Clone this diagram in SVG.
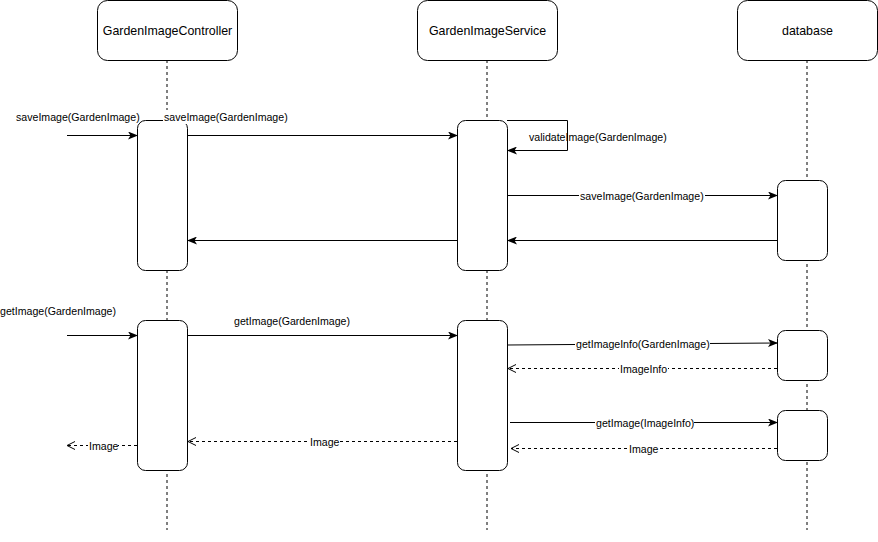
<svg xmlns="http://www.w3.org/2000/svg" width="878" height="542" viewBox="0 0 878 542">
<style>
.hdr{fill:#fff;stroke:#000;stroke-width:1}
.act{fill:#fff;stroke:#000;stroke-width:1}
.life{stroke:#000;stroke-width:1;stroke-dasharray:3,3;fill:none}
.msg{stroke:#000;stroke-width:1;fill:none}
.ret{stroke:#000;stroke-width:1;fill:none;stroke-dasharray:3,3}
text{font-family:"Liberation Sans",Arial,sans-serif;fill:#000}
.ht{font-size:12.4px;text-anchor:middle}
.lt{font-size:10.6px}
.bg{fill:#fff}
</style>
<defs>
<marker id="fa" markerWidth="10" markerHeight="8" refX="9" refY="4" orient="auto" markerUnits="userSpaceOnUse">
<path d="M0,0 L10,4 L0,8 L2.5,4 Z" fill="#000"/>
</marker>
<marker id="oa" markerWidth="10" markerHeight="10" refX="9" refY="4" orient="auto" markerUnits="userSpaceOnUse">
<path d="M1,0 L9,4 L1,8" fill="none" stroke="#000"/>
</marker>
</defs>
<g id="lifelines">
<line class="life" x1="167" y1="60" x2="167" y2="530"/>
<line class="life" x1="487" y1="60" x2="487" y2="530"/>
<line class="life" x1="807" y1="60" x2="807" y2="530"/>
</g>
<g id="controller">
<rect class="hdr" x="97.5" y="0.5" width="140" height="60" rx="10"/>
<text class="ht" x="167.5" y="35">GardenImageController</text>
</g>
<g id="service">
<rect class="hdr" x="417.5" y="0.5" width="140" height="60" rx="10"/>
<text class="ht" x="487.5" y="35">GardenImageService</text>
</g>
<g id="database">
<rect class="hdr" x="737.5" y="0.5" width="140" height="60" rx="10"/>
<text class="ht" x="807.5" y="35">database</text>
</g>
<g id="activations">
<rect class="act" x="137.5" y="120.5" width="50" height="150" rx="8"/>
<rect class="act" x="137.5" y="320.5" width="50" height="150" rx="8"/>
<rect class="act" x="457.5" y="120.5" width="50" height="150" rx="8"/>
<rect class="act" x="457.5" y="320.5" width="50" height="150" rx="8"/>
<rect class="act" x="777.5" y="180.5" width="50" height="80" rx="8"/>
<rect class="act" x="777.5" y="330.5" width="50" height="50" rx="8"/>
<rect class="act" x="777.5" y="410.5" width="50" height="50" rx="8"/>
</g>
<g id="connectors">
<line class="msg" x1="67" y1="135.5" x2="137" y2="135.5" marker-end="url(#fa)"/>
<rect class="bg" x="15" y="110" width="124" height="14"/>
<text class="lt" x="16" y="121">saveImage(GardenImage)</text>

<line class="msg" x1="187" y1="135.5" x2="457" y2="135.5" marker-end="url(#fa)"/>
<rect class="bg" x="163" y="110" width="126" height="14"/>
<text class="lt" x="164" y="121">saveImage(GardenImage)</text>

<path class="msg" d="M507,120.5 H567.5 V150.5 H508" marker-end="url(#fa)"/>
<text class="lt" x="529" y="141">validateImage(GardenImage)</text>

<line class="msg" x1="507" y1="195.5" x2="777" y2="195.5" marker-end="url(#fa)"/>
<rect class="bg" x="579" y="189" width="126" height="13"/>
<text class="lt" x="580" y="200">saveImage(GardenImage)</text>

<line class="msg" x1="777" y1="240.5" x2="508" y2="240.5" marker-end="url(#fa)"/>
<line class="msg" x1="457" y1="240.5" x2="188" y2="240.5" marker-end="url(#fa)"/>

<line class="msg" x1="67" y1="335.5" x2="137" y2="335.5" marker-end="url(#fa)"/>
<text class="lt" x="0" y="315">getImage(GardenImage)</text>

<line class="msg" x1="187" y1="335.5" x2="457" y2="335.5" marker-end="url(#fa)"/>
<text class="lt" x="234" y="325">getImage(GardenImage)</text>

<line class="msg" x1="507" y1="345" x2="777" y2="343" marker-end="url(#fa)"/>
<rect class="bg" x="575" y="337" width="135" height="13"/>
<text class="lt" x="576" y="348">getImageInfo(GardenImage)</text>

<line class="ret" x1="777" y1="368.5" x2="508" y2="368.5" marker-end="url(#oa)"/>
<rect class="bg" x="619" y="362" width="49" height="13"/>
<text class="lt" x="620" y="373">ImageInfo</text>

<line class="msg" x1="510" y1="422.5" x2="777" y2="422.5" marker-end="url(#fa)"/>
<rect class="bg" x="595" y="416" width="99" height="13"/>
<text class="lt" x="596" y="427">getImage(ImageInfo)</text>

<line class="ret" x1="777" y1="448.5" x2="511" y2="448.5" marker-end="url(#oa)"/>
<rect class="bg" x="628" y="442" width="31" height="13"/>
<text class="lt" x="629" y="453">Image</text>

<line class="ret" x1="457" y1="441.5" x2="188" y2="441.5" marker-end="url(#oa)"/>
<rect class="bg" x="309" y="435" width="30" height="13"/>
<text class="lt" x="310" y="446">Image</text>

<line class="ret" x1="137" y1="445.5" x2="67" y2="445.5" marker-end="url(#oa)"/>
<rect class="bg" x="88" y="439" width="30" height="13"/>
<text class="lt" x="89" y="450">Image</text>
</g>
</svg>
